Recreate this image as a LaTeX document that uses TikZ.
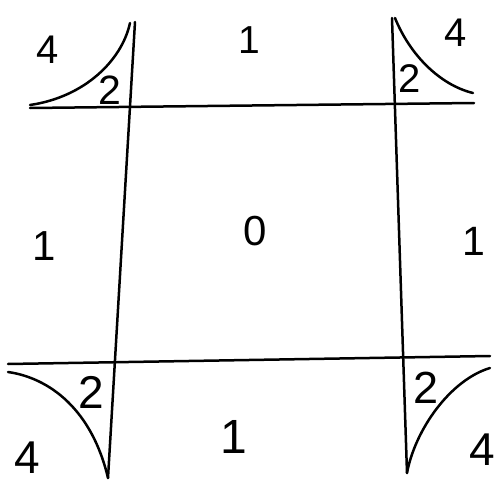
\documentclass[tikz,border=0pt]{standalone}
\usepackage{fontspec}
\setmainfont{Liberation Sans}
\begin{document}
\begin{tikzpicture}[x=1pt,y=-1pt,
  ln/.style={line width=2.5pt,line cap=round},
  num/.style={inner sep=0pt,font=\fontsize{#1}{#1}\selectfont},
  num/.default=36]
\useasboundingbox (0,0) rectangle (499,482);
% line end points
\coordinate (h1a) at (30,108);  \coordinate (h1b) at (474,103);
\coordinate (h2a) at (8,364);   \coordinate (h2b) at (490,356);
\coordinate (v1a) at (135,22);  \coordinate (v1b) at (108,478);
\coordinate (v2a) at (392,18);  \coordinate (v2b) at (407,473);
\draw[ln] (h1a) -- (h1b);
\draw[ln] (h2a) -- (h2b);
\draw[ln] (v1a) -- (v1b);
\draw[ln] (v2a) -- (v2b);
% corner curves
\coordinate (c1a) at (30,105);  \coordinate (c1b) at (130,23);
\coordinate (c2a) at (395,18);  \coordinate (c2b) at (473,93);
\coordinate (c3a) at (8,372);   \coordinate (c3b) at (108,478);
\coordinate (c4a) at (490,368); \coordinate (c4b) at (407,473);
\draw[ln] (c1a) .. controls (85,97) and (122,60) .. (c1b);
\draw[ln] (c2a) .. controls (410,55) and (440,85) .. (c2b);
\draw[ln] (c3a) .. controls (50,378) and (92,410) .. (c3b);
\draw[ln] (c4a) .. controls (450,380) and (415,430) .. (c4b);
% labels
\node[num=40] (n4tl) at (48,50) {4};
\node[num=41] (n2tl) at (110,90) {2};
\node[num=39] (n1t)  at (249,40) {1};
\node[num=40] (n4tr) at (456,33) {4};
\node[num=40] (n2tr) at (410,79) {2};
\node[num=42] (n1l)  at (44,246) {1};
\node[num=42] (n0)   at (255,231) {0};
\node[num=41] (n1r)  at (474,241) {1};
\node[num=46] (n2bl) at (91,392) {2};
\node[num=45] (n2br) at (426,388) {2};
\node[num=46] (n4bl) at (27,458) {4};
\node[num=48] (n1b)  at (234,437) {1};
\node[num=46] (n4br) at (482,450) {4};
\end{tikzpicture}
\end{document}
